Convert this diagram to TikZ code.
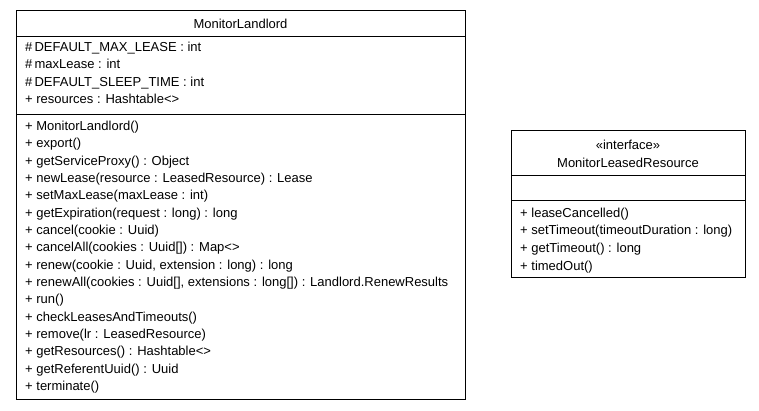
\documentclass[tikz,border=0pt]{standalone}
\usepackage{fontspec}
\setmainfont{Liberation Sans}
\begin{document}
\begin{tikzpicture}[x=1pt,y=-1pt,
  box/.style={draw, line width=1pt, inner sep=0pt, outer sep=0pt, anchor=north west},
  sep/.style={line width=1pt},
  txt/.style={anchor=base west, inner sep=0pt, font=\fontsize{13}{15}\selectfont},
  ttl/.style={anchor=base, inner sep=0pt, font=\fontsize{13}{15}\selectfont}]
\useasboundingbox (0,0) rectangle (759,411);
% MonitorLandlord
\node[box, minimum width=449pt, minimum height=388pt] (ml) at (16,11) {};
\draw[sep] (ml.west |- 0,37) -- (ml.east |- 0,37);
\draw[sep] (ml.west |- 0,115) -- (ml.east |- 0,115);
\node[ttl] (mlname) at (240.5,28.5) {MonitorLandlord};
\node[txt] (a1) at (25,51.5) {\#\,DEFAULT\_MAX\_LEASE : int};
\node[txt] (a2) at (25,69) {\#\,maxLease : int};
\node[txt] (a3) at (25,86.5) {\#\,DEFAULT\_SLEEP\_TIME : int};
\node[txt] (a4) at (25,104) {+ resources : Hashtable<>};
\node[txt] (m1) at (25,130.5) {+ MonitorLandlord()};
\node[txt] (m2) at (25,147.83) {+ export()};
\node[txt] (m3) at (25,165.17) {+ getServiceProxy() : Object};
\node[txt] (m4) at (25,182.5) {+ newLease(resource : LeasedResource) : Lease};
\node[txt] (m5) at (25,199.83) {+ setMaxLease(maxLease : int)};
\node[txt] (m6) at (25,217.17) {+ getExpiration(request : long) : long};
\node[txt] (m7) at (25,234.5) {+ cancel(cookie : Uuid)};
\node[txt] (m8) at (25,251.83) {+ cancelAll(cookies : Uuid[]) : Map<>};
\node[txt] (m9) at (25,269.17) {+ renew(cookie : Uuid, extension : long) : long};
\node[txt] (m10) at (25,286.5) {+ renewAll(cookies : Uuid[], extensions : long[]) : Landlord.RenewResults};
\node[txt] (m11) at (25,303.83) {+ run()};
\node[txt] (m12) at (25,321.17) {+ checkLeasesAndTimeouts()};
\node[txt] (m13) at (25,338.5) {+ remove(lr : LeasedResource)};
\node[txt] (m14) at (25,355.83) {+ getResources() : Hashtable<>};
\node[txt] (m15) at (25,373.17) {+ getReferentUuid() : Uuid};
\node[txt] (m16) at (25,390.5) {+ terminate()};
% MonitorLeasedResource
\node[box, minimum width=234pt, minimum height=146pt] (mr) at (511,131) {};
\draw[sep] (mr.west |- 0,175.5) -- (mr.east |- 0,175.5);
\draw[sep] (mr.west |- 0,201) -- (mr.east |- 0,201);
\node[ttl] (mrst) at (628,149.5) {«interface»};
\node[ttl] (mrname) at (628,167.5) {MonitorLeasedResource};
\node[txt] (r1) at (520,217.5) {+ leaseCancelled()};
\node[txt] (r2) at (520,235) {+ setTimeout(timeoutDuration : long)};
\node[txt] (r3) at (520,252.5) {+ getTimeout() : long};
\node[txt] (r4) at (520,270) {+ timedOut()};
\end{tikzpicture}
\end{document}
